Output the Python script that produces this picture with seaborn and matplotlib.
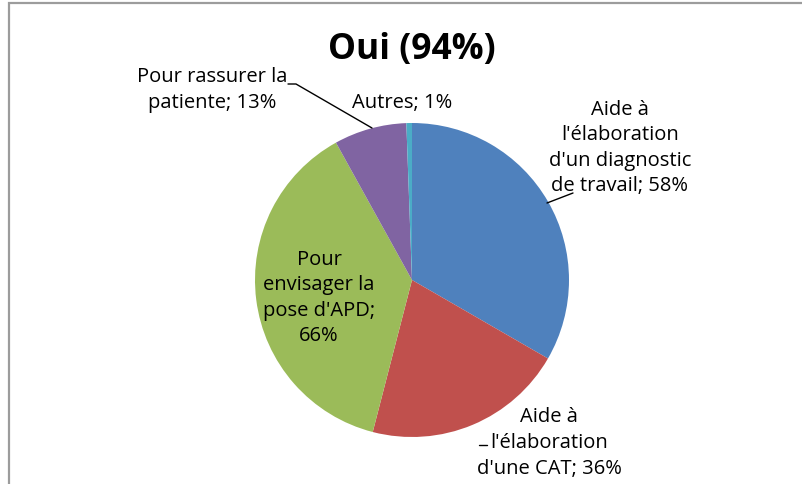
import matplotlib
matplotlib.use("Agg")
import matplotlib.pyplot as plt
from matplotlib.patches import Rectangle
import seaborn as sns

# data (percent of respondents, clockwise from 12 o'clock)
categories = ["Aide à\nl'élaboration\nd'un diagnostic\nde travail", "Aide à\nl'élaboration\nd'une CAT",
              "Pour\nenvisager la\npose d'APD", "Pour rassurer la\npatiente", "Autres"]
values = [58, 36, 66, 13, 1]
colors = ["#4F81BD", "#C0504D", "#9BBB59", "#8064A2", "#4BACC6"]
title = "Oui (94%)"

sns.set_theme(style="white")
plt.rcParams["font.family"] = ["Open Sans", "DejaVu Sans"]

W, H = 803, 484
fig = plt.figure(figsize=(W / 100, H / 100), dpi=100)
ax = fig.add_axes([0, 0, 1, 1])

cx, cy, r = 412, 280, 157  # pie centre / radius in pixels


def px(x, y):
    # pixel position -> data units of the pie (radius 1)
    return (x - cx) / r, (cy - y) / r


ax.pie(values, colors=sns.color_palette(colors), startangle=90, counterclock=False,
       wedgeprops=dict(linewidth=0))
ax.set_aspect("auto")
ax.set_xlim(px(0, 0)[0], px(W, 0)[0])
ax.set_ylim(px(0, H)[1], px(0, 0)[1])
ax.axis("off")

# label anchor (pixels) and separator before the value
spots = [(620, 148, "; "), (549, 443, "; "), (319, 298, ";\n"), (212, 90, "; "), (402, 103, "; ")]
for cat, v, (x, y, sep) in zip(categories, values, spots):
    ax.text(*px(x, y), f"{cat}{sep}{v}%", ha="center", va="center", fontsize=14.5,
            linespacing=1.37, color="black")

# leader lines
ax.plot(*zip(px(288, 84), px(296, 84), px(372, 128)), color="black", lw=1)
ax.plot(*zip(px(547, 203), px(573, 193)), color="black", lw=1)
ax.plot(*zip(px(479, 445), px(487, 445)), color="black", lw=1)

ax.text(*px(412, 50), title, ha="center", va="center", fontsize=25.5, fontweight="bold",
        color="black")

# chart frame (only top/left visible)
fig.patches.append(Rectangle((9.5 / W, -0.1), 1.2, (H - 3.5) / H + 0.1,
                             transform=fig.transFigure, fill=False,
                             edgecolor="#9c9c9c", linewidth=1.6))

fig.savefig("out.png", dpi=100)
